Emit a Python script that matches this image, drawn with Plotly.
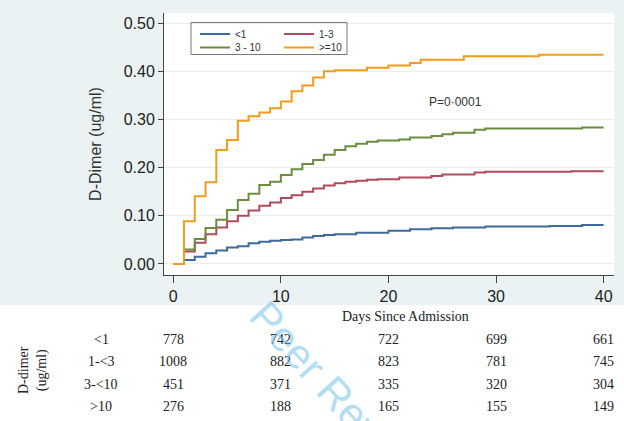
import plotly.graph_objects as go

# ---------------- data ----------------
days = [0, 1, 2, 3, 4, 5, 6, 7, 8, 9, 10, 11, 12, 13, 14, 15, 16, 17, 18, 19, 20,
        21, 22, 23, 24, 25, 26, 27, 28, 29, 30, 31, 32, 33, 34, 35, 36, 37, 38, 39, 40]

cum_lt1 = [0.000, 0.008, 0.015, 0.022, 0.028, 0.034, 0.037, 0.043, 0.046, 0.048, 0.050,
           0.051, 0.055, 0.058, 0.060, 0.062, 0.062, 0.065, 0.065, 0.065, 0.069,
           0.069, 0.072, 0.072, 0.074, 0.074, 0.076, 0.076, 0.076, 0.078, 0.078,
           0.078, 0.078, 0.078, 0.078, 0.079, 0.079, 0.079, 0.081, 0.081, 0.081]

cum_1_3 = [0.000, 0.026, 0.044, 0.062, 0.076, 0.089, 0.100, 0.111, 0.121, 0.128, 0.137,
           0.143, 0.150, 0.157, 0.163, 0.168, 0.171, 0.173, 0.175, 0.176, 0.176,
           0.180, 0.180, 0.180, 0.183, 0.186, 0.186, 0.186, 0.190, 0.192, 0.192,
           0.192, 0.192, 0.192, 0.192, 0.192, 0.192, 0.193, 0.193, 0.193, 0.193]

cum_3_10 = [0.000, 0.030, 0.052, 0.075, 0.092, 0.112, 0.133, 0.146, 0.164, 0.171, 0.185,
            0.197, 0.208, 0.216, 0.227, 0.237, 0.245, 0.250, 0.254, 0.257, 0.257,
            0.259, 0.263, 0.263, 0.266, 0.270, 0.273, 0.273, 0.279, 0.282, 0.282,
            0.282, 0.282, 0.282, 0.282, 0.282, 0.282, 0.282, 0.284, 0.284, 0.284]

cum_ge10 = [0.000, 0.089, 0.141, 0.170, 0.237, 0.258, 0.298, 0.307, 0.315, 0.324, 0.338,
            0.359, 0.371, 0.388, 0.401, 0.403, 0.403, 0.403, 0.408, 0.408, 0.413,
            0.413, 0.418, 0.425, 0.425, 0.425, 0.425, 0.432, 0.432, 0.432, 0.432,
            0.432, 0.432, 0.432, 0.435, 0.435, 0.435, 0.435, 0.435, 0.435, 0.435]

series_names = ["<1", "1-3", "3 - 10", ">=10"]
series_values = [cum_lt1, cum_1_3, cum_3_10, cum_ge10]

y_ticks = [0.0, 0.1, 0.2, 0.3, 0.4, 0.5]
x_ticks = [0, 10, 20, 30, 40]

risk_days = [0, 10, 20, 30, 40]
risk_groups = ["<1", "1-<3", "3-<10", ">10"]
risk_lt1 = [778, 742, 722, 699, 661]
risk_1_3 = [1008, 882, 823, 781, 745]
risk_3_10 = [451, 371, 335, 320, 304]
risk_ge10 = [276, 188, 165, 155, 149]
risk_rows = [risk_lt1, risk_1_3, risk_3_10, risk_ge10]

p_text = "P=0\u00b70001"

# ---------------- styling ----------------
W, H = 624, 421
ML, MR, MT, MB = 164, 10, 13, 146
PW, PH = W - ML - MR, H - MT - MB


def px_x(px):
    return (px - ML) / PW


def px_y(py):
    return (H - MB - py) / PH


colors = ["#3f6a9c", "#b24a5c", "#6b8d40", "#f39c1c"]
legend_ids = ["legend", "legend2", "legend3", "legend4"]
legend_px = [(195, 33.5), (279, 33.5), (195, 47), (279, 47)]   # (left, row centre)
SANS = "Liberation Sans, Arial, sans-serif"
SERIF = "Liberation Serif, Times New Roman, serif"

fig = go.Figure()
for name, vals, col, lg in zip(series_names, series_values, colors, legend_ids):
    fig.add_trace(go.Scatter(
        x=days, y=vals, mode="lines", name=name,
        line=dict(color=col, width=2, shape="hv"),
        legend=lg,
    ))


def ann(x, y, text, font, xref="paper", yref="paper", **kw):
    return dict(x=x, y=y, xref=xref, yref=yref, text=text, showarrow=False,
                xanchor="center", yanchor="middle", font=font, **kw)


serif14 = dict(family=SERIF, size=14, color="#222222")
annotations = []
annotations.append(ann(26.2, 0.337, p_text, dict(family=SANS, size=12, color="#333333"),
                       xref="x", yref="y"))
annotations.append(ann(px_x(405), px_y(316), "Days Since Admission", serif14))
row_py = [339, 361, 384, 406]
for grp, counts, py in zip(risk_groups, risk_rows, row_py):
    annotations.append(ann(px_x(101), px_y(py), grp, serif14))
    for d, c in zip(risk_days, counts):
        annotations.append(ann(d, px_y(py), str(c), serif14, xref="x"))
annotations.append(ann(px_x(33), px_y(370), "D-dimer<br>(ug/ml)", serif14, textangle=-90))
annotations.append(ann(px_x(338), px_y(396), "Peer Review",
                       dict(family=SANS, size=42, color="rgba(100,190,235,0.5)"),
                       textangle=48))

shapes = [
    dict(type="rect", xref="paper", yref="paper",
         x0=px_x(-5), x1=px_x(W + 5), y0=px_y(H + 5), y1=px_y(305),
         fillcolor="white", line=dict(width=0), layer="below"),
    dict(type="rect", xref="paper", yref="paper",
         x0=px_x(191), x1=px_x(347), y0=px_y(54.5), y1=px_y(22.5),
         fillcolor="rgba(0,0,0,0)", line=dict(color="#777777", width=1), layer="above"),
]

legend_common = dict(bgcolor="rgba(0,0,0,0)", borderwidth=0,
                     font=dict(family=SANS, size=10, color="#333333"),
                     xanchor="left", yanchor="top", orientation="v",
                     itemwidth=30, tracegroupgap=0)
legend_layout = {}
for lg, (lx, ly) in zip(legend_ids, legend_px):
    legend_layout[lg] = dict(x=px_x(lx), y=px_y(ly - 14), **legend_common)

fig.update_layout(
    width=W, height=H,
    margin=dict(l=ML, r=MR, t=MT, b=MB),
    paper_bgcolor="#EAF2F3",
    plot_bgcolor="white",
    showlegend=True,
    annotations=annotations,
    shapes=shapes,
    xaxis=dict(range=[-0.86, 40.96], tickvals=x_ticks, ticktext=[str(t) for t in x_ticks],
               showgrid=False, zeroline=False, showline=True, linecolor="#444444", linewidth=1,
               ticks="outside", ticklen=7, tickcolor="#444444",
               tickfont=dict(family=SANS, size=16, color="#222222")),
    yaxis=dict(range=[-0.023, 0.522], tickvals=y_ticks, tickformat=".2f",
               showgrid=True, gridcolor="#e8eef1", gridwidth=1, zeroline=False,
               showline=True, linecolor="#444444", linewidth=1,
               ticks="outside", ticklen=5, tickcolor="#444444",
               tickfont=dict(family=SANS, size=16, color="#222222"),
               title=dict(text="D-Dimer (ug/ml)", standoff=18,
                          font=dict(family=SANS, size=16, color="#333333"))),
    **legend_layout,
)

fig.write_html("out.html", config={"displayModeBar": False},
               post_script="document.body.style.margin='0px';")
